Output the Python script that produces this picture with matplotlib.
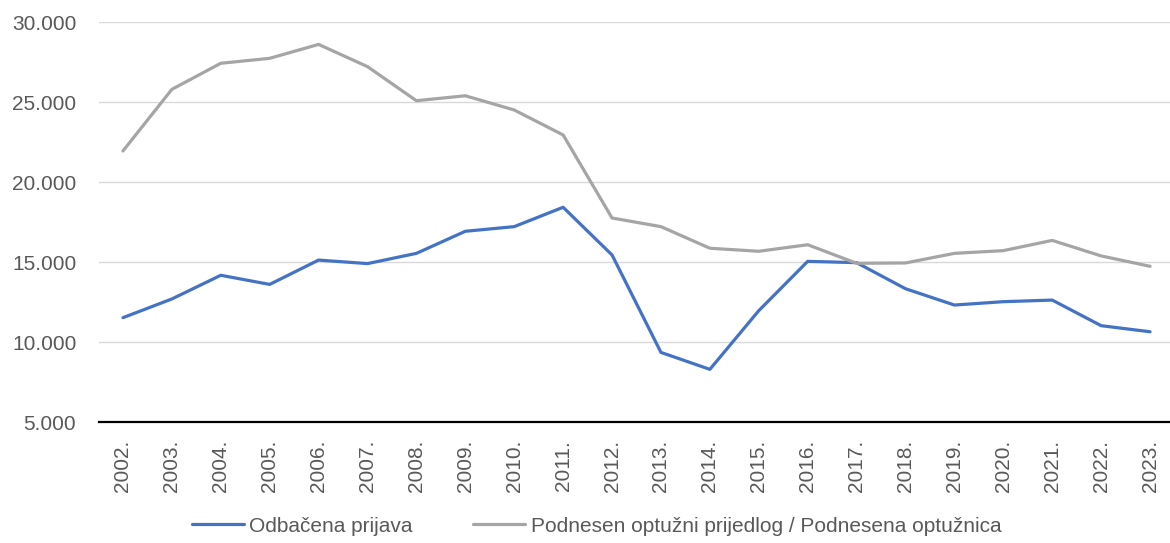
import numpy as np
import matplotlib.pyplot as plt
from matplotlib.ticker import FuncFormatter

plt.rcParams['font.family'] = ['Liberation Sans', 'DejaVu Sans']

godine = ['2002.', '2003.', '2004.', '2005.', '2006.', '2007.', '2008.', '2009.',
          '2010.', '2011.', '2012.', '2013.', '2014.', '2015.', '2016.', '2017.',
          '2018.', '2019.', '2020.', '2021.', '2022.', '2023.']
odbacena = [11520, 12690, 14170, 13600, 15120, 14900, 15540, 16920, 17210, 18420, 15440,
            9350, 8290, 11960, 15040, 14960, 13330, 12310, 12520, 12620, 11020, 10640]
podnesen = [21940, 25790, 27420, 27730, 28600, 27210, 25080, 25390, 24500, 22940, 17750,
            17210, 15860, 15670, 16080, 14920, 14940, 15540, 15710, 16350, 15380, 14730]

W, H = 1170, 543
fig = plt.figure(figsize=(W / 100, H / 100), dpi=100)
ax = fig.add_axes([98.5 / W, 1 - 422 / H, (1174.5 - 98.5) / W, 400 / H])

x = np.arange(len(godine))
l1, = ax.plot(x, odbacena, color='#4472C4', lw=2.3, solid_capstyle='round', zorder=3)
l2, = ax.plot(x, podnesen, color='#A5A5A5', lw=2.3, solid_capstyle='round', zorder=3)

ax.set_xlim(-0.5, len(godine) - 0.5)
ax.set_ylim(5000, 30000)
ax.set_yticks(np.arange(5000, 30001, 5000))
ax.yaxis.set_major_formatter(FuncFormatter(lambda v, p: f'{int(v):,}'.replace(',', '.')))
ax.set_xticks(x)
ax.set_xticklabels(godine, rotation=90)
ax.tick_params(axis='both', length=0, labelsize=15, colors='#595959')
ax.tick_params(axis='x', pad=13)
ax.tick_params(axis='y', pad=16)

ax.grid(axis='y', color='#D9D9D9', lw=1)
ax.set_axisbelow(True)
for s in ['top', 'right', 'left']:
    ax.spines[s].set_visible(False)
ax.spines['bottom'].set_color('black')
ax.spines['bottom'].set_linewidth(1.6)
ax.spines['bottom'].set_zorder(4)

fig.legend([l1, l2], ['Odbačena prijava', 'Podnesen optužni prijedlog / Podnesena optužnica'],
           loc='center', bbox_to_anchor=(0.51, 1 - 526 / H), ncol=2, frameon=False,
           fontsize=15, handlelength=2.5, columnspacing=2.9, handletextpad=0.25,
           labelcolor='#595959')

fig.savefig('out.png', dpi=100)
